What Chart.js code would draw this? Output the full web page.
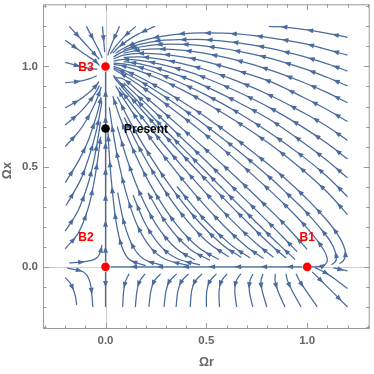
<!DOCTYPE html>
<html>
<head>
<meta charset="utf-8">
<script src="https://cdn.jsdelivr.net/npm/chart.js@4.4.1/dist/chart.umd.min.js"></script>
<style>
  html, body { margin: 0; padding: 0; background: #fff; }
  #wrap { width: 374px; height: 374px; }
</style>
</head>
<body>
<div id="wrap"><canvas id="flow" width="374" height="374"></canvas></div>
<script>
// Streamlines, each listed in the direction of flow, as [Ωr, Ωx]

// lines entering from the right edge and running left into B3
const upperStreams = [
    [[1.2,1.145],[1.1,1.165],[1.0,1.182],[0.9,1.195],[0.81,1.2]],
    [[1.2,1.056],[1.1,1.084],[0.98,1.115],[0.818,1.143],[0.65,1.162],[0.488,1.167],[0.39,1.164],[0.27,1.149],[0.17,1.125],[0.09,1.091],[0.05,1.066]],
    [[1.2,0.977],[1.1,1.013],[0.98,1.05],[0.818,1.09],[0.65,1.119],[0.488,1.134],[0.39,1.134],[0.27,1.129],[0.17,1.11],[0.09,1.083]],
    [[1.2,0.903],[1.1,0.945],[0.98,0.99],[0.818,1.04],[0.65,1.078],[0.488,1.102],[0.39,1.11],[0.27,1.11],[0.17,1.097],[0.09,1.075],[0.04,1.048]],
    [[1.2,0.819],[1.1,0.869],[0.98,0.921],[0.818,0.982],[0.65,1.031],[0.488,1.066],[0.39,1.08],[0.27,1.087],[0.17,1.082],[0.09,1.066]],
    [[1.2,0.725],[1.1,0.784],[0.98,0.846],[0.818,0.924],[0.65,0.98],[0.488,1.026],[0.39,1.047],[0.27,1.062],[0.17,1.065],[0.09,1.056],[0.04,1.038]],
    [[1.2,0.631],[1.1,0.7],[0.98,0.77],[0.818,0.855],[0.65,0.928],[0.488,0.986],[0.39,1.012],[0.27,1.037],[0.17,1.048],[0.09,1.045]],
    [[1.2,0.538],[1.1,0.615],[0.98,0.696],[0.818,0.792],[0.65,0.876],[0.488,0.946],[0.39,0.98],[0.27,1.012],[0.17,1.03],[0.09,1.035],[0.04,1.027]],
    [[1.2,0.444],[1.1,0.53],[0.98,0.621],[0.818,0.733],[0.65,0.825],[0.488,0.904],[0.39,0.945],[0.27,0.987],[0.17,1.013],[0.09,1.024]],
    [[1.2,0.35],[1.1,0.45],[0.98,0.55],[0.818,0.667],[0.65,0.774],[0.488,0.863],[0.39,0.91],[0.27,0.961],[0.17,0.996],[0.09,1.013],[0.04,1.016]],
    [[1.2,0.261],[1.1,0.372],[0.98,0.482],[0.818,0.61],[0.65,0.725],[0.488,0.824],[0.39,0.878],[0.27,0.936],[0.17,0.977],[0.09,1.002],[0.04,1.01]]
];

// lines leaving B1 and bending back towards B3
const nodeStreams = [
    [[1.02,0.0005],[1.05,0.001],[1.08,0.006],[1.1,0.033],[1.08,0.088],[1.0,0.193],[0.9,0.299],[0.818,0.378],[0.65,0.53],[0.488,0.666],[0.39,0.743],[0.27,0.834],[0.17,0.905],[0.09,0.957],[0.04,0.986]],
    [[1.12,0.011],[1.14,0.026],[1.145,0.048],[1.13,0.099],[1.1,0.149],[1.0,0.268],[0.9,0.366],[0.818,0.443],[0.65,0.586],[0.488,0.712],[0.39,0.783],[0.27,0.865],[0.17,0.927],[0.09,0.971],[0.04,0.993]],
    [[1.16,0.016],[1.18,0.031],[1.19,0.063],[1.18,0.108],[1.15,0.163],[1.1,0.23],[1.0,0.338],[0.9,0.432],[0.818,0.503],[0.65,0.636],[0.488,0.754],[0.39,0.818],[0.27,0.891],[0.17,0.946],[0.09,0.982],[0.04,1.0]],
    [[0.95,0.076],[0.9,0.128],[0.818,0.212],[0.65,0.379],[0.488,0.538],[0.39,0.632],[0.27,0.748],[0.17,0.843],[0.09,0.918]],
    [[1.0,0.087],[0.9,0.199],[0.818,0.282],[0.65,0.445],[0.488,0.594],[0.39,0.681],[0.27,0.786],[0.17,0.871],[0.09,0.936],[0.04,0.946]]
];

// lines inside the triangle, rising off the Ωr axis
const innerStreams = [
    [[0.94,0.037],[0.865,0.107],[0.772,0.198],[0.597,0.373],[0.443,0.531],[0.329,0.649],[0.169,0.817],[0.09,0.9],[0.039,0.956]],
    [[0.896,0.044],[0.83,0.1],[0.741,0.185],[0.576,0.352],[0.458,0.477],[0.323,0.623],[0.192,0.769],[0.091,0.886],[0.045,0.942]],
    [[0.833,0.0485],[0.749,0.115],[0.64,0.218],[0.517,0.347],[0.378,0.504],[0.25,0.658],[0.135,0.804],[0.067,0.896]],
    [[0.784,0.042],[0.698,0.102],[0.583,0.209],[0.45,0.354],[0.311,0.525],[0.2,0.674],[0.106,0.813],[0.05,0.903]],
    [[0.717,0.044],[0.62,0.111],[0.492,0.234],[0.354,0.401]],
    [[0.673,0.047],[0.576,0.113],[0.453,0.235],[0.314,0.413],[0.205,0.579],[0.118,0.731],[0.058,0.849]],
    [[0.611,0.05],[0.501,0.128],[0.377,0.264],[0.263,0.428],[0.168,0.593],[0.093,0.745]],
    [[0.562,0.037],[0.463,0.095],[0.35,0.213],[0.232,0.393],[0.143,0.571],[0.075,0.736],[0.036,0.852]],
    [[0.518,0.033],[0.419,0.088],[0.311,0.204],[0.21,0.37]],
    [[0.444,0.034],[0.347,0.094],[0.253,0.208],[0.171,0.366],[0.108,0.533],[0.058,0.7]],
    [[0.469,0.01],[0.36,0.039],[0.28,0.096],[0.2,0.21],[0.136,0.359]],
    [[0.408,0.0085],[0.299,0.0365],[0.225,0.095],[0.159,0.204],[0.11,0.342],[0.067,0.513],[0.038,0.668],[0.019,0.796]],
    [[0.283,0.008],[0.193,0.037],[0.138,0.098],[0.094,0.212],[0.06,0.37]],
    [[0.199,0.006],[0.118,0.037],[0.082,0.098],[0.055,0.209],[0.035,0.368],[0.021,0.525],[0.012,0.678]]
];

// lines on the Ωr < 0 side
const leftStreams = [
    [[-0.18,0.02],[-0.12,0.024],[-0.07,0.032],[-0.04,0.048],[-0.025,0.075],[-0.018,0.11]],
    [[-0.2,0.09],[-0.136,0.167],[-0.088,0.286],[-0.058,0.417],[-0.037,0.548],[-0.024,0.649]],
    [[-0.2,0.178],[-0.137,0.279],[-0.088,0.41],[-0.058,0.529],[-0.039,0.632],[-0.025,0.724]],
    [[-0.196,0.306],[-0.124,0.434],[-0.078,0.561],[-0.051,0.657],[-0.03,0.755],[-0.018,0.825]],
    [[-0.2,0.42],[-0.133,0.53],[-0.087,0.627],[-0.057,0.714],[-0.037,0.782],[-0.022,0.845]],
    [[-0.2,0.6],[-0.132,0.676],[-0.093,0.735],[-0.062,0.794],[-0.038,0.849],[-0.021,0.899]],
    [[-0.2,0.708],[-0.131,0.767],[-0.087,0.816],[-0.054,0.862],[-0.03,0.904]],
    [[-0.2,0.794],[-0.133,0.831],[-0.086,0.866],[-0.051,0.9],[-0.032,0.925]],
    [[-0.2,0.918],[-0.118,0.928],[-0.074,0.94],[-0.044,0.953]],
    [[-0.2,1.02],[-0.104,0.995],[-0.066,0.988],[-0.04,0.987]],
    [[-0.2,1.131],[-0.093,1.054],[-0.053,1.028],[-0.03,1.005]],
    [[-0.19,-0.006],[-0.114,-0.023],[-0.091,-0.044],[-0.075,-0.085],[-0.067,-0.146],[-0.063,-0.2]],
    [[-0.2,-0.054],[-0.176,-0.08],[-0.159,-0.114],[-0.149,-0.149],[-0.143,-0.19]]
];

// lines coming down from the top edge into B3
const topStreams = [
    [[-0.18,1.2],[-0.105,1.118],[-0.059,1.067],[-0.031,1.036]],
    [[-0.095,1.2],[-0.054,1.122],[-0.03,1.074],[-0.016,1.043]],
    [[-0.015,1.2],[-0.008,1.119],[-0.004,1.071]],
    [[0.07,1.2],[0.041,1.137],[0.0225,1.09],[0.011,1.055]],
    [[0.15,1.2],[0.088,1.144],[0.048,1.098],[0.024,1.062]],
    [[0.245,1.2],[0.161,1.161],[0.103,1.125],[0.062,1.093],[0.036,1.066]]
];

// lines below the Ωr axis
const lowerStreams = [
    [[0.117,-0.035],[0.1,-0.07],[0.09,-0.12],[0.085,-0.2]],
    [[0.196,-0.035],[0.17,-0.07],[0.156,-0.12],[0.148,-0.2]],
    [[0.273,-0.035],[0.242,-0.07],[0.225,-0.12],[0.215,-0.2]],
    [[0.353,-0.035],[0.318,-0.07],[0.3,-0.12],[0.29,-0.2]],
    [[0.412,-0.035],[0.378,-0.07],[0.359,-0.12],[0.35,-0.2]],
    [[0.479,-0.035],[0.445,-0.07],[0.427,-0.12],[0.42,-0.2]],
    [[0.55,-0.035],[0.518,-0.07],[0.502,-0.12],[0.5,-0.2]],
    [[0.603,-0.035],[0.575,-0.07],[0.563,-0.12],[0.565,-0.2]],
    [[0.671,-0.035],[0.648,-0.07],[0.641,-0.12],[0.65,-0.2]],
    [[0.731,-0.035],[0.716,-0.07],[0.713,-0.12],[0.73,-0.2]],
    [[0.781,-0.035],[0.771,-0.07],[0.777,-0.12],[0.8,-0.2]],
    [[0.842,-0.035],[0.841,-0.07],[0.855,-0.12],[0.89,-0.2]],
    [[0.895,-0.035],[0.903,-0.07],[0.926,-0.12],[0.97,-0.2]],
    [[0.945,-0.035],[0.962,-0.07],[0.995,-0.12],[1.05,-0.2]],
    [[1.025,-0.025],[1.1,-0.1],[1.2,-0.2]],
    [[1.04,-0.004],[1.1,-0.035],[1.15,-0.07],[1.2,-0.108]],
    [[1.13,-0.0055],[1.2,-0.02]]
];

// separatrices along the axes
const axisStreams = [
    [[0.0,0.025],[0.0,0.975]],
    [[0.0,-0.025],[0.0,-0.2]],
    [[0.975,0.0],[0.025,0.0]]
];

const pointNames = ['B1', 'B2', 'B3', 'Present'];
const pointX = [1, 0, 0, 0];
const pointY = [0, 0, 1, 0.69];
const pointColors = ['#ff0000', '#ff0000', '#ff0000', '#000000'];
const labelX = [1.0, -0.097, -0.097, 0.092];
const labelY = [0.145, 0.146, 0.993, 0.686];

const majorTicks = [0, 0.5, 1];
const minorTicks = [-0.3, -0.2, -0.1, 0.1, 0.2, 0.3, 0.4, 0.6, 0.7, 0.8, 0.9, 1.1, 1.2, 1.3];

const streamColor = '#4a6b9d';
const frameColor = '#9a9a9a';
const textGray = '#666666';

// sample the drawn bezier so the arrow heads sit on the curve
function curvePoints(pts) {
    const out = [];
    for (let i = 0; i < pts.length - 1; i++) {
        const p = pts[i], q = pts[i + 1];
        const c1x = p.cp2x ?? p.x, c1y = p.cp2y ?? p.y;
        const c2x = q.cp1x ?? q.x, c2y = q.cp1y ?? q.y;
        for (let k = 0; k < 16; k++) {
            const t = k / 16, u = 1 - t;
            out.push([
                u * u * u * p.x + 3 * u * u * t * c1x + 3 * u * t * t * c2x + t * t * t * q.x,
                u * u * u * p.y + 3 * u * u * t * c1y + 3 * u * t * t * c2y + t * t * t * q.y
            ]);
        }
    }
    const last = pts[pts.length - 1];
    out.push([last.x, last.y]);
    return out;
}

function drawArrow(ctx, x, y, ux, uy) {
    const px = -uy, py = ux;
    ctx.beginPath();
    ctx.moveTo(x + ux * 3.6, y + uy * 3.6);
    ctx.lineTo(x - ux * 3 + px * 2.5, y - uy * 3 + py * 2.5);
    ctx.lineTo(x - ux * 3 - px * 2.5, y - uy * 3 - py * 2.5);
    ctx.closePath();
    ctx.fill();
}

const streamPlot = {
    id: 'streamPlot',
    beforeDatasetsDraw(chart) {
        const { ctx, chartArea: a, scales: { x, y } } = chart;
        const x0 = Math.round(x.getPixelForValue(0)) + 0.5;
        const y0 = Math.round(y.getPixelForValue(0)) + 0.5;
        ctx.save();
        ctx.strokeStyle = '#cfcfcf';
        ctx.lineWidth = 1;
        ctx.beginPath();
        ctx.moveTo(x0, a.top); ctx.lineTo(x0, a.bottom);
        ctx.moveTo(a.left, y0); ctx.lineTo(a.right, y0);
        ctx.stroke();
        ctx.restore();
    },
    afterDatasetDraw(chart, args) {
        const ds = chart.data.datasets[args.index];
        if (!ds.isStream) return;
        const pts = curvePoints(args.meta.data);
        const ctx = chart.ctx;
        let total = 0;
        for (let i = 1; i < pts.length; i++) {
            total += Math.hypot(pts[i][0] - pts[i - 1][0], pts[i][1] - pts[i - 1][1]);
        }
        const step = 26;
        let next = Math.min(12, total / 2);
        let acc = 0;
        ctx.save();
        ctx.fillStyle = streamColor;
        for (let i = 1; i < pts.length && next < total - 3; i++) {
            const dx = pts[i][0] - pts[i - 1][0], dy = pts[i][1] - pts[i - 1][1];
            const len = Math.hypot(dx, dy);
            if (len === 0) continue;
            while (acc + len >= next && next < total - 3) {
                const t = (next - acc) / len;
                drawArrow(ctx, pts[i - 1][0] + dx * t, pts[i - 1][1] + dy * t, dx / len, dy / len);
                next += step;
            }
            acc += len;
        }
        ctx.restore();
    },
    afterDraw(chart) {
        const { ctx, chartArea: a, scales: { x, y } } = chart;
        ctx.save();
        ctx.strokeStyle = frameColor;
        ctx.lineWidth = 1;
        ctx.strokeRect(a.left + 0.5, a.top + 0.5, a.right - a.left - 1, a.bottom - a.top - 1);

        // inward ticks on all four sides
        ctx.beginPath();
        const ticks = majorTicks.map(v => [v, 6]).concat(minorTicks.map(v => [v, 3.5]));
        ticks.forEach(([v, len]) => {
            const px = Math.round(x.getPixelForValue(v)) + 0.5;
            if (px > a.left + 1 && px < a.right - 1) {
                ctx.moveTo(px, a.bottom); ctx.lineTo(px, a.bottom - len);
                ctx.moveTo(px, a.top); ctx.lineTo(px, a.top + len);
            }
            const py = Math.round(y.getPixelForValue(v)) + 0.5;
            if (py > a.top + 1 && py < a.bottom - 1) {
                ctx.moveTo(a.left, py); ctx.lineTo(a.left + len, py);
                ctx.moveTo(a.right, py); ctx.lineTo(a.right - len, py);
            }
        });
        ctx.stroke();

        // tick labels
        ctx.fillStyle = textGray;
        ctx.font = 'bold 11.5px "Liberation Sans", Arial, sans-serif';
        ctx.textBaseline = 'middle';
        ctx.textAlign = 'center';
        majorTicks.forEach(v => ctx.fillText(v.toFixed(1), x.getPixelForValue(v), a.bottom + 12));
        ctx.textAlign = 'right';
        majorTicks.forEach(v => ctx.fillText(v.toFixed(1), a.left - 5, y.getPixelForValue(v)));

        // axis titles
        ctx.font = 'bold 12.5px "Liberation Sans", Arial, sans-serif';
        ctx.textAlign = 'center';
        ctx.fillText('Ωr', x.getPixelForValue(0.5), a.bottom + 34);
        ctx.save();
        ctx.translate(8, y.getPixelForValue(0.48));
        ctx.rotate(-Math.PI / 2);
        ctx.fillText('Ωx', 0, 0);
        ctx.restore();

        // point labels
        ctx.font = 'bold 12px "Liberation Sans", Arial, sans-serif';
        pointNames.forEach((name, i) => {
            ctx.fillStyle = pointColors[i];
            ctx.textAlign = name === 'Present' ? 'left' : 'center';
            ctx.fillText(name, x.getPixelForValue(labelX[i]), y.getPixelForValue(labelY[i]));
        });
        ctx.restore();
    }
};

const allStreams = [].concat(upperStreams, nodeStreams, innerStreams, leftStreams, topStreams, lowerStreams, axisStreams);

const lineSets = allStreams.map(s => ({
    data: s.map(p => ({ x: p[0], y: p[1] })),
    showLine: true,
    borderColor: streamColor,
    borderWidth: 1.25,
    pointRadius: 0,
    tension: 0.35,
    fill: false,
    isStream: true
}));

const markerSets = pointNames.map((n, i) => ({
    data: [{ x: pointX[i], y: pointY[i] }],
    showLine: false,
    pointRadius: 4.3,
    pointBackgroundColor: pointColors[i],
    pointBorderWidth: 0
}));

new Chart(document.getElementById('flow').getContext('2d'), {
    type: 'scatter',
    data: { datasets: markerSets.concat(lineSets) },
    options: {
        responsive: false,
        animation: false,
        devicePixelRatio: 1,
        events: [],
        layout: { padding: { left: 43, top: 1, right: 2, bottom: 45 } },
        scales: {
            x: { type: 'linear', min: -0.31, max: 1.31, display: false },
            y: { type: 'linear', min: -0.31, max: 1.31, display: false }
        },
        plugins: {
            legend: { display: false },
            tooltip: { enabled: false }
        }
    },
    plugins: [streamPlot]
});
</script>
</body>
</html>
